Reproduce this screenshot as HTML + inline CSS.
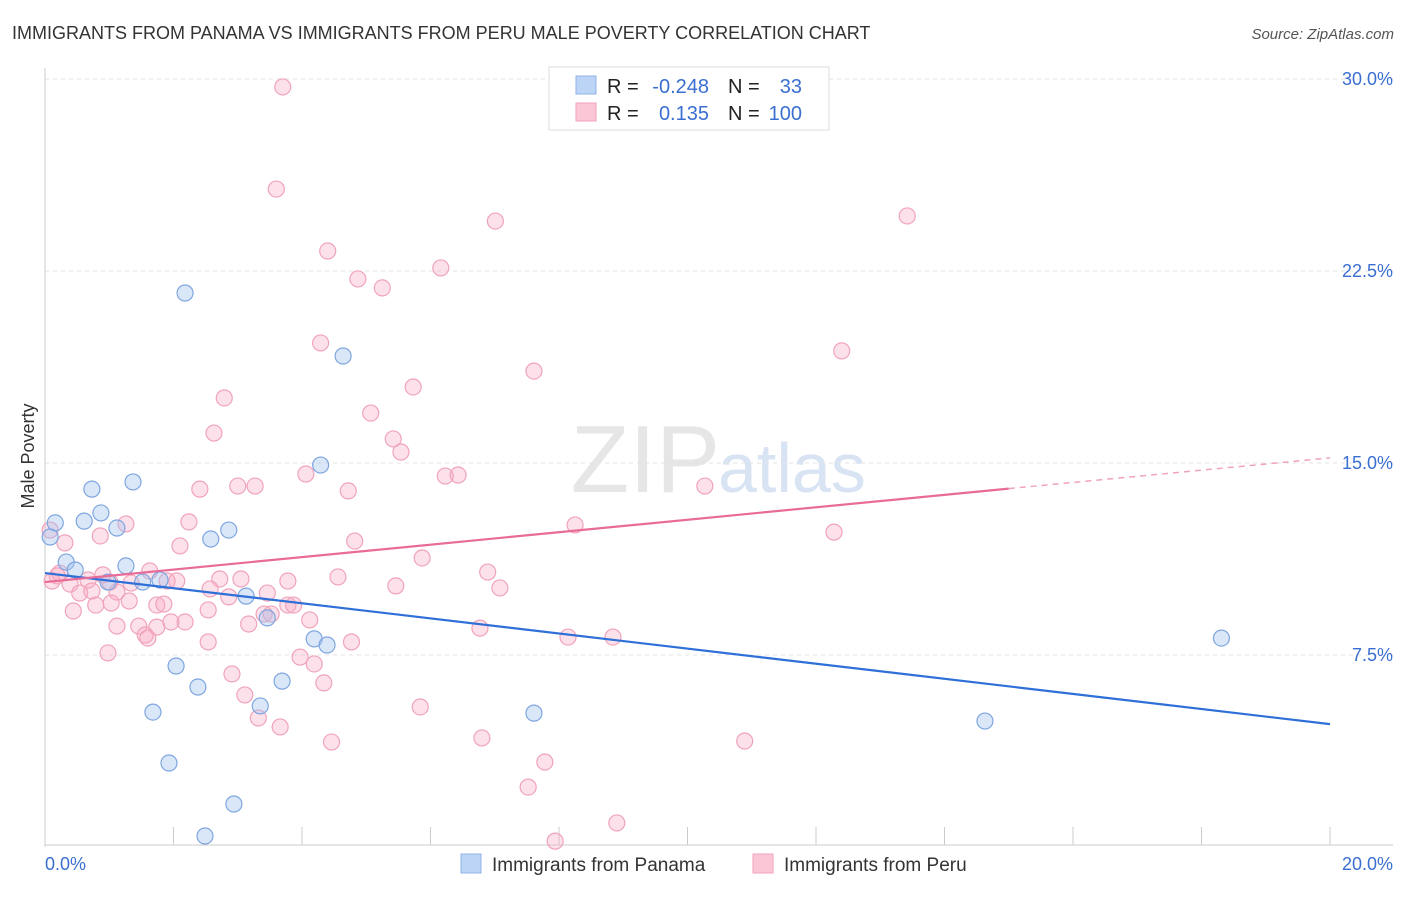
<!DOCTYPE html>
<html><head><meta charset="utf-8"><style>
body{margin:0;background:#fff;font-family:"Liberation Sans",sans-serif;}
svg text{font-family:"Liberation Sans",sans-serif;}
</style></head><body>
<svg width="1406" height="892" xmlns="http://www.w3.org/2000/svg">
<text x="12" y="39" font-size="18" fill="#333">IMMIGRANTS FROM PANAMA VS IMMIGRANTS FROM PERU MALE POVERTY CORRELATION CHART</text>
<text x="1394" y="39" font-size="15" fill="#555" text-anchor="end" font-style="italic">Source: ZipAtlas.com</text>
<text x="720" y="492" font-size="96" fill="#e6e6e6" text-anchor="end" font-family="Liberation Serif">ZIP</text>
<text x="718" y="492" font-size="70" fill="#d8e4f3">atlas</text>
<g id="grid"></g>
<g id="axes"></g>
<g id="marks"></g>
<text x="34" y="456" font-size="18" fill="#333" text-anchor="middle" transform="rotate(-90 34 456)">Male Poverty</text>
<text x="45" y="870" font-size="18" fill="#3a6fd1">0.0%</text>
<text x="1393" y="870" font-size="18" fill="#3a6fd1" text-anchor="end">20.0%</text>
<g>
<rect x="549" y="67" width="280" height="63" fill="#fff" stroke="#ddd"/>
<rect x="576" y="76" width="20" height="18" fill="#bcd4f5" stroke="#8fb3e8"/>
<rect x="576" y="103" width="20" height="18" fill="#fbc7d6" stroke="#f0a3ba"/>
<text x="607" y="93" font-size="20" fill="#222">R = </text><text x="709" y="93" font-size="20" fill="#3a6fd1" text-anchor="end">-0.248</text>
<text x="728" y="93" font-size="20" fill="#222">N = </text><text x="802" y="93" font-size="20" fill="#3a6fd1" text-anchor="end">33</text>
<text x="607" y="120" font-size="20" fill="#222">R = </text><text x="709" y="120" font-size="20" fill="#3a6fd1" text-anchor="end">0.135</text>
<text x="728" y="120" font-size="20" fill="#222">N = </text><text x="802" y="120" font-size="20" fill="#3a6fd1" text-anchor="end">100</text>
</g>
<g>
<rect x="461" y="854" width="20" height="19" fill="#bcd4f5" stroke="#8fb3e8"/>
<text x="492" y="871" font-size="19" fill="#333">Immigrants from Panama</text>
<rect x="753" y="854" width="20" height="19" fill="#fbc7d6" stroke="#f0a3ba"/>
<text x="784" y="871" font-size="19" fill="#333">Immigrants from Peru</text>
</g>
</svg>
<script>
const yTicks=[7.5,15,22.5,30];
const yTickLabels=["7.5%","15.0%","22.5%","30.0%"];
const xTicks=[0,2,4,6,8,10,12,14,16,18,20];
const panamaX=[0.16,0.61,0.87,0.73,1.37,1.12,0.33,0.47,0.98,1.26,1.52,1.79,2.18,2.58,2.86,3.13,3.46,4.64,4.29,4.19,4.39,3.69,3.35,2.04,2.38,1.68,1.93,2.94,2.49,7.61,14.63,18.31,0.08];
const panamaY=[12.66,12.73,13.05,13.98,14.26,12.46,11.13,10.82,10.35,10.98,10.35,10.43,21.64,12.03,12.38,9.80,8.95,19.18,14.92,8.13,7.89,6.48,5.51,7.07,6.25,5.27,3.28,1.68,0.43,5.23,4.92,8.16,12.11];
const peruX=[3.70,3.60,7.01,13.42,4.40,4.87,6.16,5.25,4.29,12.40,7.61,5.73,2.79,5.07,2.63,5.42,5.54,4.06,6.23,6.43,2.41,3.00,3.27,4.72,10.27,1.26,2.24,8.25,12.28,4.82,2.10,0.86,0.31,5.87,6.89,7.08,4.56,5.46,3.78,3.05,2.72,2.05,1.90,1.63,1.34,0.90,0.67,0.19,0.39,0.54,0.73,1.12,1.31,1.74,1.85,2.57,2.86,3.46,3.78,3.41,3.52,3.87,4.12,3.17,2.54,0.79,0.44,1.03,2.18,1.96,1.74,1.46,1.12,1.56,1.60,2.54,0.98,4.77,6.77,8.14,8.84,3.97,4.19,2.91,4.34,3.11,3.32,3.66,5.84,4.46,6.80,10.89,7.78,7.52,8.90,7.94,0.08,0.11,0.23,1.01];
const peruY=[29.69,25.70,24.45,24.65,23.28,22.19,22.62,21.84,19.69,19.38,18.59,17.97,17.54,16.95,16.17,15.94,15.43,14.57,14.49,14.53,13.98,14.10,14.10,13.91,14.10,12.62,12.70,12.58,12.30,11.95,11.76,12.15,11.88,11.29,10.74,10.12,10.55,10.20,10.39,10.47,10.47,10.39,10.39,10.78,10.31,10.63,10.43,10.59,10.27,9.92,10.00,9.96,9.61,9.45,9.49,10.08,9.77,9.92,9.45,9.10,9.10,9.45,8.87,8.71,9.26,9.45,9.22,9.53,8.79,8.79,8.59,8.63,8.63,8.28,8.16,8.01,7.58,8.01,8.55,8.20,8.20,7.42,7.15,6.76,6.41,5.94,5.04,4.69,5.47,4.10,4.26,4.14,3.32,2.34,0.94,0.23,12.38,10.39,10.70,10.35];
const blueLine=[[0,10.7],[20,4.8]];
const pinkSolid=[[0,10.35],[15,14.0]];
const pinkDashEnd=[20,15.2];
const X0=45,X1=1330,Y0=847,PX=25.6;
const sx=v=>X0+(v/20)*(X1-X0), sy=v=>Y0-v*PX;
const NS='http://www.w3.org/2000/svg';
function mk(tag,attrs,parent){const e=document.createElementNS(NS,tag);for(const k in attrs)e.setAttribute(k,attrs[k]);document.getElementById(parent).appendChild(e);return e;}
yTicks.forEach((t,i)=>{
 const g=mk('line',{x1:X0,x2:1393,y1:sy(t),y2:sy(t),stroke:'#e3e3e3','stroke-dasharray':'4,4'},'grid');
 
 
 const tx=mk('text',{x:1393,y:sy(t)+6,'font-size':18,fill:'#3a6fd1','text-anchor':'end'},'axes');
 tx.textContent=yTickLabels[i];
 
 
});
const ax=mk('line',{x1:X0,x2:X0,y1:68,y2:Y0,stroke:'#ccc'},'axes');


const bx=mk('line',{x1:X0,x2:1393,y1:Y0-2,y2:Y0-2,stroke:'#ccc'},'axes');


xTicks.forEach(t=>{
 const l=mk('line',{x1:sx(t),x2:sx(t),y1:Y0-2,y2:Y0-20,stroke:'#ccc'},'axes');
 
 
});
peruX.forEach((x,i)=>{
 const c=mk('circle',{cx:sx(x),cy:sy(peruY[i]),r:8,fill:'rgba(248,170,195,0.35)',stroke:'#f0a3ba','stroke-width':1.2},'marks');
 
 
});
panamaX.forEach((x,i)=>{
 const c=mk('circle',{cx:sx(x),cy:sy(panamaY[i]),r:8,fill:'rgba(160,195,240,0.4)',stroke:'#7fa6e0','stroke-width':1.2},'marks');
 
 
});
const bl=mk('line',{x1:sx(blueLine[0][0]),y1:sy(blueLine[0][1]),x2:sx(blueLine[1][0]),y2:sy(blueLine[1][1]),stroke:'#2e6fd8','stroke-width':2.2},'marks');


const pl=mk('line',{x1:sx(pinkSolid[0][0]),y1:sy(pinkSolid[0][1]),x2:sx(pinkSolid[1][0]),y2:sy(pinkSolid[1][1]),stroke:'#e86b98','stroke-width':2.2},'marks');


const pd=mk('line',{x1:sx(pinkSolid[1][0]),y1:sy(pinkSolid[1][1]),x2:sx(pinkDashEnd[0]),y2:sy(pinkDashEnd[1]),stroke:'#f0a3ba','stroke-width':1.5,'stroke-dasharray':'6,5'},'marks');


</script>
</body></html>
